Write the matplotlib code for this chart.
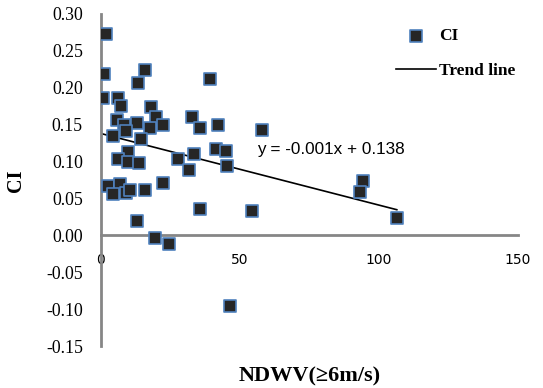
import numpy as np
import matplotlib
matplotlib.use("Agg")
import matplotlib.pyplot as plt

# values
ndwv = [1.8, 1.2, 15.8, 13.3, 0.6, 6.2, 7.2, 17.9, 19.8, 22.4, 17.6, 12.8,
        5.9, 8.4, 8.9, 4.2, 14.4, 9.8, 6.2, 9.8, 13.8, 2.6, 6.8, 4.2, 8.9,
        10.4, 15.8, 22.4, 12.8, 19.4, 24.5, 39.2, 32.8, 35.6, 42.2, 27.8,
        33.6, 31.7, 41.3, 44.9, 45.2, 35.6, 54.4, 46.4, 57.8, 94.1, 93.2, 106.4]
ci = [0.273, 0.218, 0.224, 0.206, 0.186, 0.186, 0.175, 0.174, 0.161, 0.149,
      0.146, 0.152, 0.156, 0.149, 0.142, 0.134, 0.131, 0.113, 0.103, 0.100,
      0.098, 0.067, 0.070, 0.056, 0.058, 0.061, 0.061, 0.071, 0.019, -0.004,
      -0.012, 0.212, 0.161, 0.146, 0.150, 0.103, 0.110, 0.089, 0.117, 0.115,
      0.094, 0.036, 0.033, -0.096, 0.143, 0.074, 0.059, 0.023]
trend_slope = -0.00097
trend_intercept = 0.138
x_ticks = [0, 50, 100, 150]
y_ticks = [-0.15, -0.10, -0.05, 0.00, 0.05, 0.10, 0.15, 0.20, 0.25, 0.30]

serif = "Liberation Serif"
grey = "#868686"

fig = plt.figure(figsize=(5.43, 3.88), dpi=100)
ax = fig.add_axes([0.186, 0.108, 0.768, 0.856])

ax.scatter(ndwv, ci, marker="s", s=75, color="#262626", edgecolor="#4f81bd",
           linewidth=1.2, zorder=3, label="CI")
xs = np.array([min(ndwv), max(ndwv)])
ax.plot(xs, trend_slope * xs + trend_intercept, color="black", lw=1.2,
        zorder=2, label="Trend line")

ax.text(56, 0.116, "y = -0.001x + 0.138", fontsize=12.3,
        family="Liberation Sans", va="center", ha="left")

ax.set_xlim(0, 150)
ax.set_ylim(-0.15, 0.30)
ax.set_xticks(x_ticks)
ax.set_yticks(y_ticks)
ax.set_yticklabels([f"{v:.2f}" for v in y_ticks], family=serif, fontsize=12.8)
ax.set_xticklabels([str(v) for v in x_ticks], family=serif, fontsize=12.8)

for s in ["top", "right"]:
    ax.spines[s].set_visible(False)
ax.spines["bottom"].set_position(("data", 0))
ax.spines["bottom"].set_color(grey)
ax.spines["bottom"].set_linewidth(2)
ax.spines["left"].set_color(grey)
ax.spines["left"].set_linewidth(2)
ax.tick_params(axis="both", length=0)
ax.tick_params(axis="x", pad=13)
ax.tick_params(axis="y", pad=13)

fig.text(0.03, 0.535, "CI", rotation=90, family=serif, fontweight="bold",
         fontsize=14.5, ha="center", va="center")
fig.text(0.571, 0.03, "NDWV(≥6m/s)", family=serif, fontweight="bold",
         fontsize=16, ha="center", va="center")

ax.legend(loc="upper left", bbox_to_anchor=(0.714, 0.95),
          bbox_transform=fig.transFigure, frameon=False,
          prop={"family": serif, "weight": "bold", "size": 12.5},
          handlelength=2.3, handletextpad=0.15, labelspacing=1.05,
          borderpad=0, scatterpoints=1)

fig.savefig("out.png", dpi=100)
